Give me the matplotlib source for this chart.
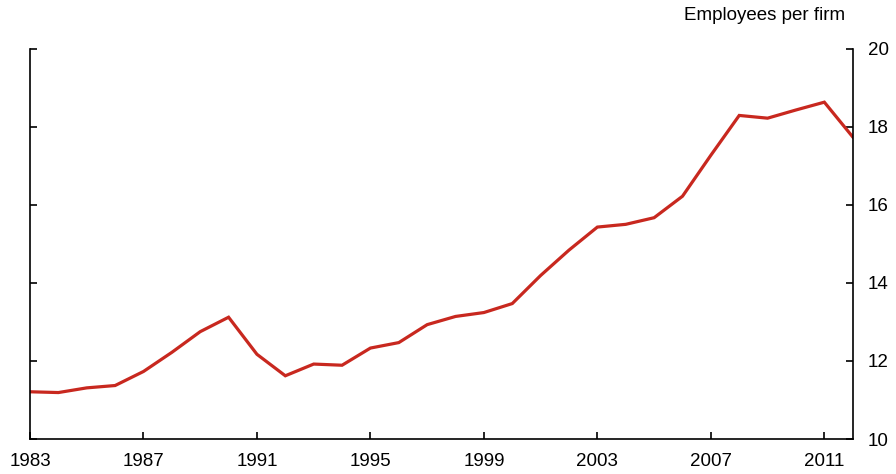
import matplotlib.pyplot as plt

# annual data, 1983-2012
years = list(range(1983, 2013))
employees_per_firm = [11.21, 11.19, 11.31, 11.37, 11.73, 12.22, 12.75, 13.12,
                      12.17, 11.62, 11.92, 11.89, 12.33, 12.47, 12.93, 13.14,
                      13.24, 13.47, 14.19, 14.84, 15.43, 15.50, 15.67, 16.22,
                      17.27, 18.29, 18.22, 18.43, 18.63, 17.74]
x_ticks = [1983, 1987, 1991, 1995, 1999, 2003, 2007, 2011]
y_ticks = [10, 12, 14, 16, 18, 20]

fig = plt.figure(figsize=(8.96, 4.74), dpi=100)
ax = fig.add_axes([30 / 896, 1 - 439 / 474, (852.7 - 30) / 896, (439 - 48.7) / 474])

ax.plot(years, employees_per_firm, color='#c8281f', linewidth=2.3, solid_joinstyle='miter')

ax.set_xlim(1983, 2012)
ax.set_ylim(10, 20)
ax.set_xticks(x_ticks)
ax.set_yticks(y_ticks)

ax.spines['top'].set_visible(False)
for s in ['left', 'right', 'bottom']:
    ax.spines[s].set_linewidth(1.2)

ax.tick_params(axis='y', left=True, right=True, labelleft=False, labelright=True,
               direction='in', length=5, width=1.2, labelsize=13.5, pad=11)
ax.tick_params(axis='x', direction='in', length=5, width=1.2, labelsize=13.5, pad=10)
for lab in ax.get_xticklabels() + ax.get_yticklabels():
    lab.set_fontfamily('Liberation Sans')

fig.text(845 / 896, 1 - 15 / 474, 'Employees per firm', ha='right', va='center',
         fontsize=13.5, family='Liberation Sans')

plt.savefig('out.png', dpi=100)
